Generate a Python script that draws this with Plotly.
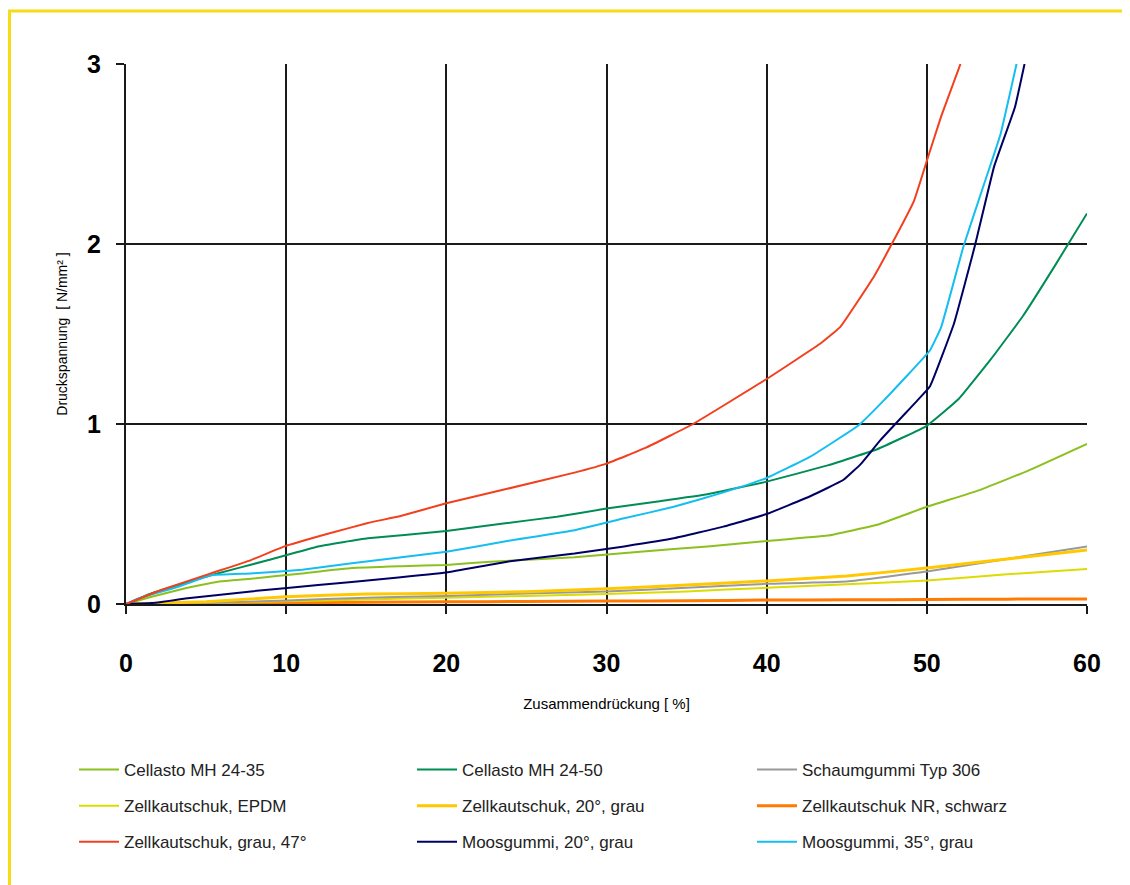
import plotly.graph_objects as go

# ---- data (x = Zusammendrückung %, y = Druckspannung N/mm²) ----
x_std = [0, 5, 10, 15, 20, 25, 30, 35, 40, 45, 50, 55, 60]

cellasto35_x = [0, 1.6, 3.7, 5.75, 7.8, 11, 14.1, 17.2, 20, 22.75, 28, 32.1, 36.3, 40, 43.8, 46.9, 50, 53.2, 56.3, 60]
cellasto35_y = [0, 0.04, 0.087, 0.124, 0.14, 0.17, 0.2, 0.21, 0.217, 0.235, 0.26, 0.29, 0.32, 0.35, 0.38, 0.44, 0.54, 0.63, 0.74, 0.89]

cellasto50_x = [0, 1.6, 5.3, 8.9, 12, 15.1, 20, 23.8, 26.9, 30, 33.2, 36.3, 40, 43.8, 46.9, 50, 52, 54, 56, 58, 60]
cellasto50_y = [0, 0.06, 0.16, 0.244, 0.32, 0.365, 0.405, 0.45, 0.485, 0.53, 0.57, 0.61, 0.68, 0.77, 0.86, 0.99, 1.14, 1.36, 1.6, 1.88, 2.17]

schaum_y = [0, 0.005, 0.02, 0.035, 0.045, 0.058, 0.07, 0.09, 0.112, 0.125, 0.18, 0.25, 0.32]
epdm_y = [0, 0.005, 0.015, 0.025, 0.035, 0.045, 0.055, 0.07, 0.09, 0.11, 0.13, 0.165, 0.195]
zk20_y = [0, 0.012, 0.04, 0.055, 0.06, 0.068, 0.085, 0.105, 0.128, 0.155, 0.2, 0.25, 0.3]
nr_y = [0, 0.004, 0.008, 0.01, 0.012, 0.014, 0.016, 0.018, 0.022, 0.023, 0.025, 0.027, 0.028]

zk47_x = [0, 2.2, 5.3, 7.8, 9.9, 12.6, 15.1, 17.2, 20, 23.8, 28, 30, 32.5, 35.4, 40, 43.4, 44.6, 46.7, 47.75, 49.2, 50.1, 50.9, 52.1]
zk47_y = [0, 0.078, 0.17, 0.244, 0.32, 0.39, 0.45, 0.49, 0.56, 0.64, 0.73, 0.78, 0.87, 1.0, 1.25, 1.45, 1.54, 1.82, 1.99, 2.24, 2.49, 2.71, 3.0]

moos20_x = [0, 1.6, 3.7, 7.8, 12, 16.2, 20, 23.8, 28, 31.1, 34.2, 37.3, 40, 42.75, 44.8, 45.9, 47.1, 49.4, 50.2, 51.7, 53, 54.2, 55.5, 56.1]
moos20_y = [0, 0.005, 0.03, 0.07, 0.105, 0.14, 0.175, 0.235, 0.28, 0.32, 0.365, 0.43, 0.5, 0.6, 0.69, 0.78, 0.91, 1.13, 1.21, 1.56, 1.99, 2.43, 2.76, 3.0]

moos35_x = [0, 0.75, 3.25, 5.3, 7.8, 11, 14.1, 17.2, 20, 23.8, 28, 31.1, 34.2, 37.3, 40, 42.75, 45.7, 47.3, 50.2, 50.9, 52.3, 53.6, 54.6, 55.6]
moos35_y = [0, 0.03, 0.096, 0.16, 0.17, 0.19, 0.226, 0.26, 0.29, 0.35, 0.41, 0.476, 0.54, 0.62, 0.70, 0.82, 0.99, 1.13, 1.41, 1.54, 1.99, 2.34, 2.61, 3.0]

names = [
    "Cellasto MH 24-35", "Cellasto MH 24-50", "Schaumgummi Typ 306",
    "Zellkautschuk, EPDM", "Zellkautschuk, 20°, grau", "Zellkautschuk NR, schwarz",
    "Zellkautschuk, grau, 47°", "Moosgummi, 20°, grau", "Moosgummi, 35°, grau",
]
x_ticks = [0, 10, 20, 30, 40, 50, 60]
y_ticks = [0, 1, 2, 3]

series = [
    (names[0], cellasto35_x, cellasto35_y, "#8CC01E", "legend"),
    (names[3], x_std, epdm_y, "#DCDC00", "legend"),
    (names[6], zk47_x, zk47_y, "#F2401E", "legend"),
    (names[1], cellasto50_x, cellasto50_y, "#008C55", "legend2"),
    (names[4], x_std, zk20_y, "#FFC800", "legend2"),
    (names[7], moos20_x, moos20_y, "#000064", "legend2"),
    (names[2], x_std, schaum_y, "#999999", "legend3"),
    (names[5], x_std, nr_y, "#FF7A00", "legend3"),
    (names[8], moos35_x, moos35_y, "#14BEF0", "legend3"),
]

# draw order: bottom lines first
draw_order = [7, 1, 6, 4, 0, 3, 5, 8, 2]

fig = go.Figure()
traces = {}
for i, (nm, xs, ys, col, lg) in enumerate(series):
    w = 3 if i in (4, 7) else 2
    traces[i] = go.Scatter(x=xs, y=ys, mode="lines", name=nm,
                           line=dict(color=col, width=w, shape="spline", smoothing=0.3),
                           legend=lg, legendgroup=nm, legendrank=i)
for i in draw_order:
    fig.add_trace(traces[i])

# page is offset by the 8px default body margin
OFF = 8
W, H = 1130, 885
L, R, T, B = 126 - OFF, 1130 - 1087 + OFF, 64 - OFF, 885 - 604 + OFF
pw, ph = W - L - R, H - T - B

def px(x):
    return (x - OFF - L) / pw

def py(y):
    return (H - B - (y - OFF)) / ph

leg_common = dict(font=dict(family="Liberation Sans, Arial", size=17, color="#222"),
                  tracegroupgap=11, yanchor="top", xanchor="left",
                  bgcolor="rgba(0,0,0,0)", itemwidth=40)

tickfont = dict(size=25, family="Liberation Sans, Arial", weight="bold")

fig.update_layout(
    width=W, height=H,
    margin=dict(l=L, r=R, t=T, b=B),
    paper_bgcolor="white", plot_bgcolor="white",
    font=dict(family="Liberation Sans, Arial", color="black"),
    legend=dict(x=px(74), y=py(752), **leg_common),
    legend2=dict(x=px(412), y=py(752), **leg_common),
    legend3=dict(x=px(752), y=py(752), **leg_common),
    xaxis=dict(range=[0, 60], tickvals=x_ticks, ticktext=[str(v) for v in x_ticks],
               showgrid=True, gridcolor="#1a1a1a", gridwidth=2,
               showline=True, linecolor="#1a1a1a", linewidth=2, mirror=False,
               ticks="outside", ticklen=8, tickwidth=2, tickcolor="#1a1a1a",
               tickfont=tickfont, ticklabelstandoff=28, zeroline=False,
               title=dict(text="Zusammendrückung [ %]", font=dict(size=15), standoff=22)),
    yaxis=dict(range=[0, 3], tickvals=y_ticks, ticktext=[str(v) for v in y_ticks],
               showgrid=True, gridcolor="#1a1a1a", gridwidth=2,
               showline=True, linecolor="#1a1a1a", linewidth=2,
               ticks="outside", ticklen=8, tickwidth=2, tickcolor="#1a1a1a",
               tickfont=tickfont, ticklabelstandoff=10, zeroline=False,
               title=dict(text="Druckspannung  [ N/mm² ]", font=dict(size=14), standoff=16)),
    shapes=[dict(type="rect", xref="paper", yref="paper",
                 x0=px(9.5), x1=px(1150), y0=py(11), y1=py(900),
                 line=dict(color="#F5DC14", width=3), fillcolor="rgba(0,0,0,0)", layer="below")],
)

fig.write_html("out.html")
